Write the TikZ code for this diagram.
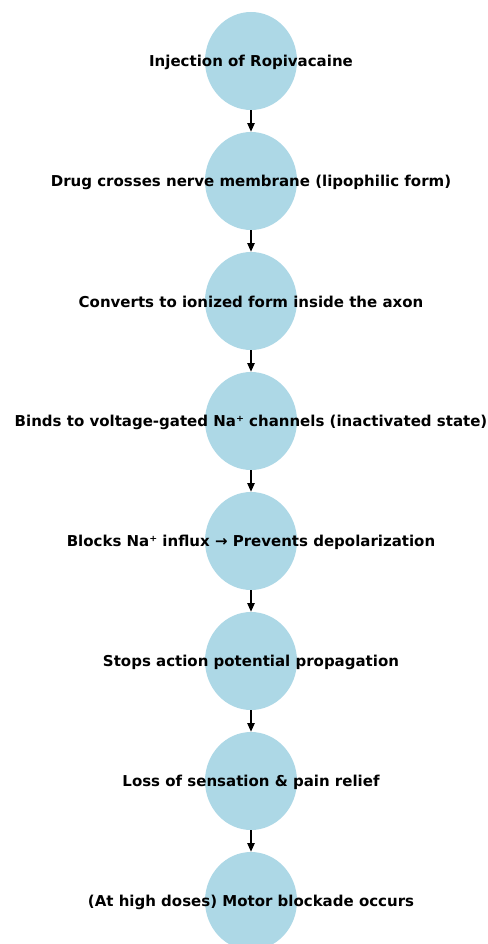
\documentclass[tikz,border=0pt]{standalone}
\usepackage{fontspec}
\setmainfont{DejaVu Sans}
\usepackage{tikz}
\usetikzlibrary{arrows.meta, shapes.geometric}

\tikzset{
    stage/.style={ellipse, fill={rgb,255:red,173;green,216;blue,230}, draw=none,
        minimum width=69pt, minimum height=73.5pt, inner sep=0pt},
    stagetext/.style={font=\fontsize{11.25}{13}\selectfont\bfseries, inner sep=0pt,
        text=black, yshift=-0.8pt},
    flow/.style={-{Triangle[length=6.5pt,width=5.5pt]}, line width=1.1pt, black}
}

\begin{document}
\begin{tikzpicture}[x=0.75pt, y=-0.75pt]
    \useasboundingbox (0,0) rectangle (488,944);
    \clip (0,0) rectangle (488,944);

    \node[stage] (s1) at (251,61) {};
    \node[stage] (s2) at (251,181) {};
    \node[stage] (s3) at (251,301) {};
    \node[stage] (s4) at (251,421) {};
    \node[stage] (s5) at (251,541) {};
    \node[stage] (s6) at (251,661) {};
    \node[stage] (s7) at (251,781) {};
    \node[stage] (s8) at (251,901) {};

    \draw[flow] (s1.south) -- (s2.north);
    \draw[flow] (s2.south) -- (s3.north);
    \draw[flow] (s3.south) -- (s4.north);
    \draw[flow] (s4.south) -- (s5.north);
    \draw[flow] (s5.south) -- (s6.north);
    \draw[flow] (s6.south) -- (s7.north);
    \draw[flow] (s7.south) -- (s8.north);

    \node[stagetext] (t1) at (s1) {Injection of Ropivacaine};
    \node[stagetext] (t2) at (s2) {Drug crosses nerve membrane (lipophilic form)};
    \node[stagetext] (t3) at (s3) {Converts to ionized form inside the axon};
    \node[stagetext] (t4) at (s4) {Binds to voltage-gated Na⁺ channels (inactivated state)};
    \node[stagetext] (t5) at (s5) {Blocks Na⁺ influx → Prevents depolarization};
    \node[stagetext] (t6) at (s6) {Stops action potential propagation};
    \node[stagetext] (t7) at (s7) {Loss of sensation \& pain relief};
    \node[stagetext] (t8) at (s8) {(At high doses) Motor blockade occurs};
\end{tikzpicture}
\end{document}
